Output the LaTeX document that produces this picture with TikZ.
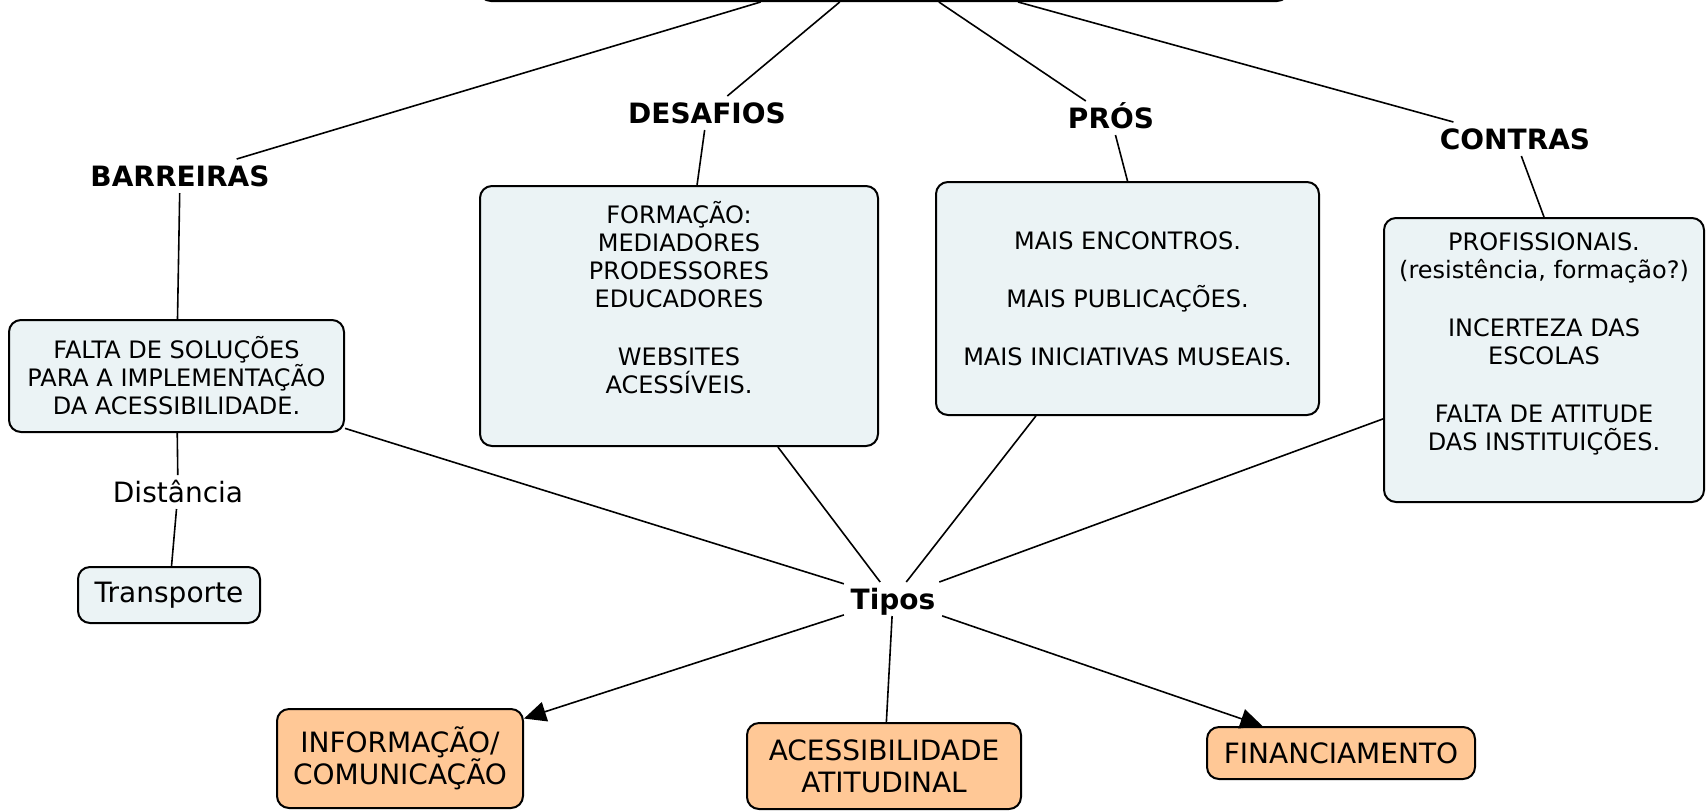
\documentclass[tikz,border=0pt]{standalone}
\usepackage{fontspec}
\setmainfont{DejaVu Sans}
\usepackage{tikz}
\usetikzlibrary{arrows.meta,positioning}
\usepackage{xcolor}
\definecolor{caixa}{RGB}{235,243,245}
\definecolor{laranja}{RGB}{255,200,150}

\begin{document}
\begin{tikzpicture}[x=0.5pt,y=-0.5pt,line width=0.8pt,
    conceito/.style={draw,line width=1pt,rounded corners=6pt,fill=caixa,align=center,font=\fontsize{12}{14}\selectfont},
    tipo/.style={draw,line width=1pt,rounded corners=6pt,fill=laranja,align=center,font=\fontsize{14}{16}\selectfont},
    rotulo/.style={font=\bfseries\fontsize{14}{16}\selectfont,text height=10.2pt,text depth=0pt,inner sep=3pt},
    frase/.style={font=\fontsize{14}{16}\selectfont,text height=10.2pt,text depth=0pt,inner sep=3pt},
    seta/.style={-{Triangle[length=11pt,width=10pt]}}]
                    \useasboundingbox (0,0) rectangle (1706,810);
                    \node[conceito,minimum width=405pt,minimum height=36pt] (mapa) at (884,-35) {};
                    \node[rotulo] (barreiras) at (180,176) {BARREIRAS};
                    \node[rotulo] (desafios) at (707,113) {DESAFIOS};
                    \node[rotulo] (pros) at (1111,118) {PRÓS};
                    \node[rotulo] (contras) at (1515,139) {CONTRAS};
                    \node[rotulo] (tipos) at (893,599) {Tipos};
                    \node[conceito,minimum width=167.5pt,minimum height=56pt] (falta) at (176.5,376)
                        {FALTA DE SOLUÇÕES\\PARA A IMPLEMENTAÇÃO\\DA ACESSIBILIDADE.};
                    \node[frase] (distancia) at (178,492) {Distância};
                    \node[conceito,font=\fontsize{14}{16}\selectfont,minimum width=91pt,minimum height=28pt] (transporte) at (169,595) {Transporte};
                    \node[conceito,minimum width=199pt,minimum height=130pt] (formacao) at (679,316)
                        {FORMAÇÃO:\\MEDIADORES\\PRODESSORES\\EDUCADORES\\[15pt]WEBSITES\\ACESSÍVEIS.\\\strut};
                    \node[conceito,minimum width=191.5pt,minimum height=116.5pt] (mais) at (1127.5,298.5)
                        {MAIS ENCONTROS.\\[15pt]MAIS PUBLICAÇÕES.\\[15pt]MAIS INICIATIVAS MUSEAIS.};
                    \node[conceito,minimum width=160pt,minimum height=142pt] (profissionais) at (1544,360)
                        {PROFISSIONAIS.\\(resistência, formação?)\\[15pt]INCERTEZA DAS\\ESCOLAS\\[15pt]FALTA DE ATITUDE\\DAS INSTITUIÇÕES.\\\strut};
                    \node[tipo,minimum width=123pt,minimum height=49.5pt] (informacao) at (400,758.5) {INFORMAÇÃO/\\COMUNICAÇÃO};
                    \node[tipo,minimum width=137pt,minimum height=43pt] (atitudinal) at (884,766) {ACESSIBILIDADE\\ATITUDINAL};
                    \node[tipo,minimum width=134pt,minimum height=26pt] (financiamento) at (1341,753) {FINANCIAMENTO};
                    % ligacoes
                    \foreach \a/\b in {mapa/barreiras,mapa/desafios,mapa/pros,mapa/contras,
                        barreiras/falta,desafios/formacao,pros/mais.north,contras/profissionais.north,
                        falta/distancia,distancia/transporte,
                        falta/tipos,formacao/tipos,mais/tipos,profissionais/tipos,tipos/atitudinal} {
                        \draw (\a) -- (\b);
                    }
                    \draw[seta] (tipos) -- (informacao);
                    \draw[seta] (tipos) -- (financiamento);
                \end{tikzpicture}
\end{document}
